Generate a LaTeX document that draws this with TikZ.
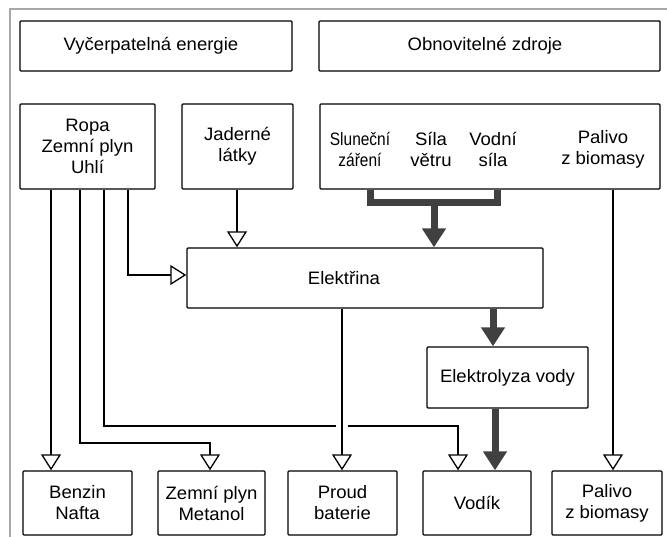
\documentclass[tikz,border=0pt]{standalone}
\usepackage{fontspec}
\setmainfont[FakeStretch=1.03]{Liberation Sans}
\newfontfamily\narrowA[FakeStretch=0.86]{Liberation Sans}
\newcommand{\basesize}{\fontsize{18}{21}\selectfont}
\usetikzlibrary{arrows.meta}
\definecolor{framegray}{HTML}{A8A8A8}
\definecolor{heavy}{HTML}{404040}
\begin{document}
\begin{tikzpicture}[x=1pt,y=-1pt,
  every node/.style={font=\basesize},
  box/.style={draw, line width=1.4pt, rounded corners=1pt, align=center, inner sep=0pt},
  txt/.style={align=center, inner sep=0pt},
  plainline/.style={line width=1.3pt},
  conn/.style={line width=1.3pt, -{Triangle[open,length=16pt,width=20pt]}},
  heavyline/.style={line width=7pt, draw=heavy, line join=miter},
  heavyarr/.style={line width=7pt, draw=heavy, fill=heavy, -{Triangle[length=19pt,width=23pt]}}]
\useasboundingbox (0,0) rectangle (667,537);
% outer frame
\draw[framegray, line width=1.8pt] (10,537) -- (10,9) -- (667,9);

% boxes
\node[box, minimum width=272, minimum height=50] (vyc) at (156,46) {};
\node[txt] (vyct) at (151,46) {Vyčerpatelná energie};
\node[box, minimum width=341, minimum height=50] (obn) at (489.5,46) {};
\node[txt] (obnt) at (485,46) {Obnovitelné zdroje};

\node[box, minimum width=135, minimum height=85] (ropa) at (87.5,146.5) {Ropa\\Zemní plyn\\Uhlí};
\node[box, minimum width=111, minimum height=85] (jad) at (237.5,146.5) {Jaderné\\látky};
\node[box, minimum width=340, minimum height=85] (ren) at (490,146.5) {};
\node[txt, font={\narrowA\basesize}] (sun) at (360,149) {Sluneční\\záření};
\node[txt] (wind) at (431,149) {Síla\\větru};
\node[txt] (water) at (493,149) {Vodní\\síla};
\node[txt] (bio) at (603,149) {Palivo\\z biomasy};

\node[box, minimum width=356, minimum height=60] (elek) at (365,278) {};
\node[txt] (elekt) at (344,278) {Elektřina};
\node[box, minimum width=161, minimum height=61] (elyz) at (507.5,377.5) {Elektrolyza vody};

\node[box, minimum width=109, minimum height=64] (benzin) at (77.5,503) {Benzin\\Nafta};
\node[box, minimum width=107, minimum height=64] (zemni) at (211.5,503) {Zemní plyn\\Metanol};
\node[box, minimum width=109, minimum height=64] (proud) at (342.5,503) {Proud\\baterie};
\node[box, minimum width=108, minimum height=64] (vodik) at (477,503) {Vodík};
\node[box, minimum width=110, minimum height=64] (palivo) at (607,503) {Palivo\\z biomasy};

% helper coordinates (x or y positions of connector runs)
\coordinate (cB) at (51,0);
\coordinate (cZ) at (80,0);
\coordinate (cV) at (104,0);
\coordinate (cE) at (128,0);
\coordinate (cZ2) at (210,0);
\coordinate (cJ) at (237,0);
\coordinate (cP) at (342,0);
\coordinate (cS1) at (370,0);
\coordinate (cSm) at (434,0);
\coordinate (cV2) at (458,0);
\coordinate (cL) at (493,0);
\coordinate (cH) at (495,0);
\coordinate (cS2) at (497,0);
\coordinate (cBio) at (613,0);
\coordinate (yE) at (0,275);
\coordinate (yZ) at (0,443);
\coordinate (yS) at (0,203);
\coordinate (gapL) at (336,426);
\coordinate (gapR) at (348,426);

% thin connectors
\draw[conn] (ropa.south -| cB) -- (benzin.north -| cB);
\draw[conn] (ropa.south -| cZ) |- (yZ -| cZ2) -- (zemni.north -| cZ2);
\draw[plainline] (ropa.south -| cV) |- (gapL);
\draw[conn] (gapR) -| (vodik.north -| cV2);
\draw[conn] (ropa.south -| cE) |- (elek.west |- yE);
\draw[conn] (jad.south -| cJ) -- (elek.north -| cJ);
\draw[conn] (elek.south -| cP) -- (proud.north -| cP);
\draw[conn] (ren.south -| cBio) -- (palivo.north -| cBio);

% heavy connectors
\draw[heavyline] (ren.south -| cS1) |- (yS -| cS2) -- (ren.south -| cS2);
\draw[heavyarr] (yS -| cSm) -- (elek.north -| cSm);
\draw[heavyarr] (elek.south -| cL) -- (elyz.north -| cL);
\draw[heavyarr] (elyz.south -| cH) -- (vodik.north -| cH);
\end{tikzpicture}
\end{document}
